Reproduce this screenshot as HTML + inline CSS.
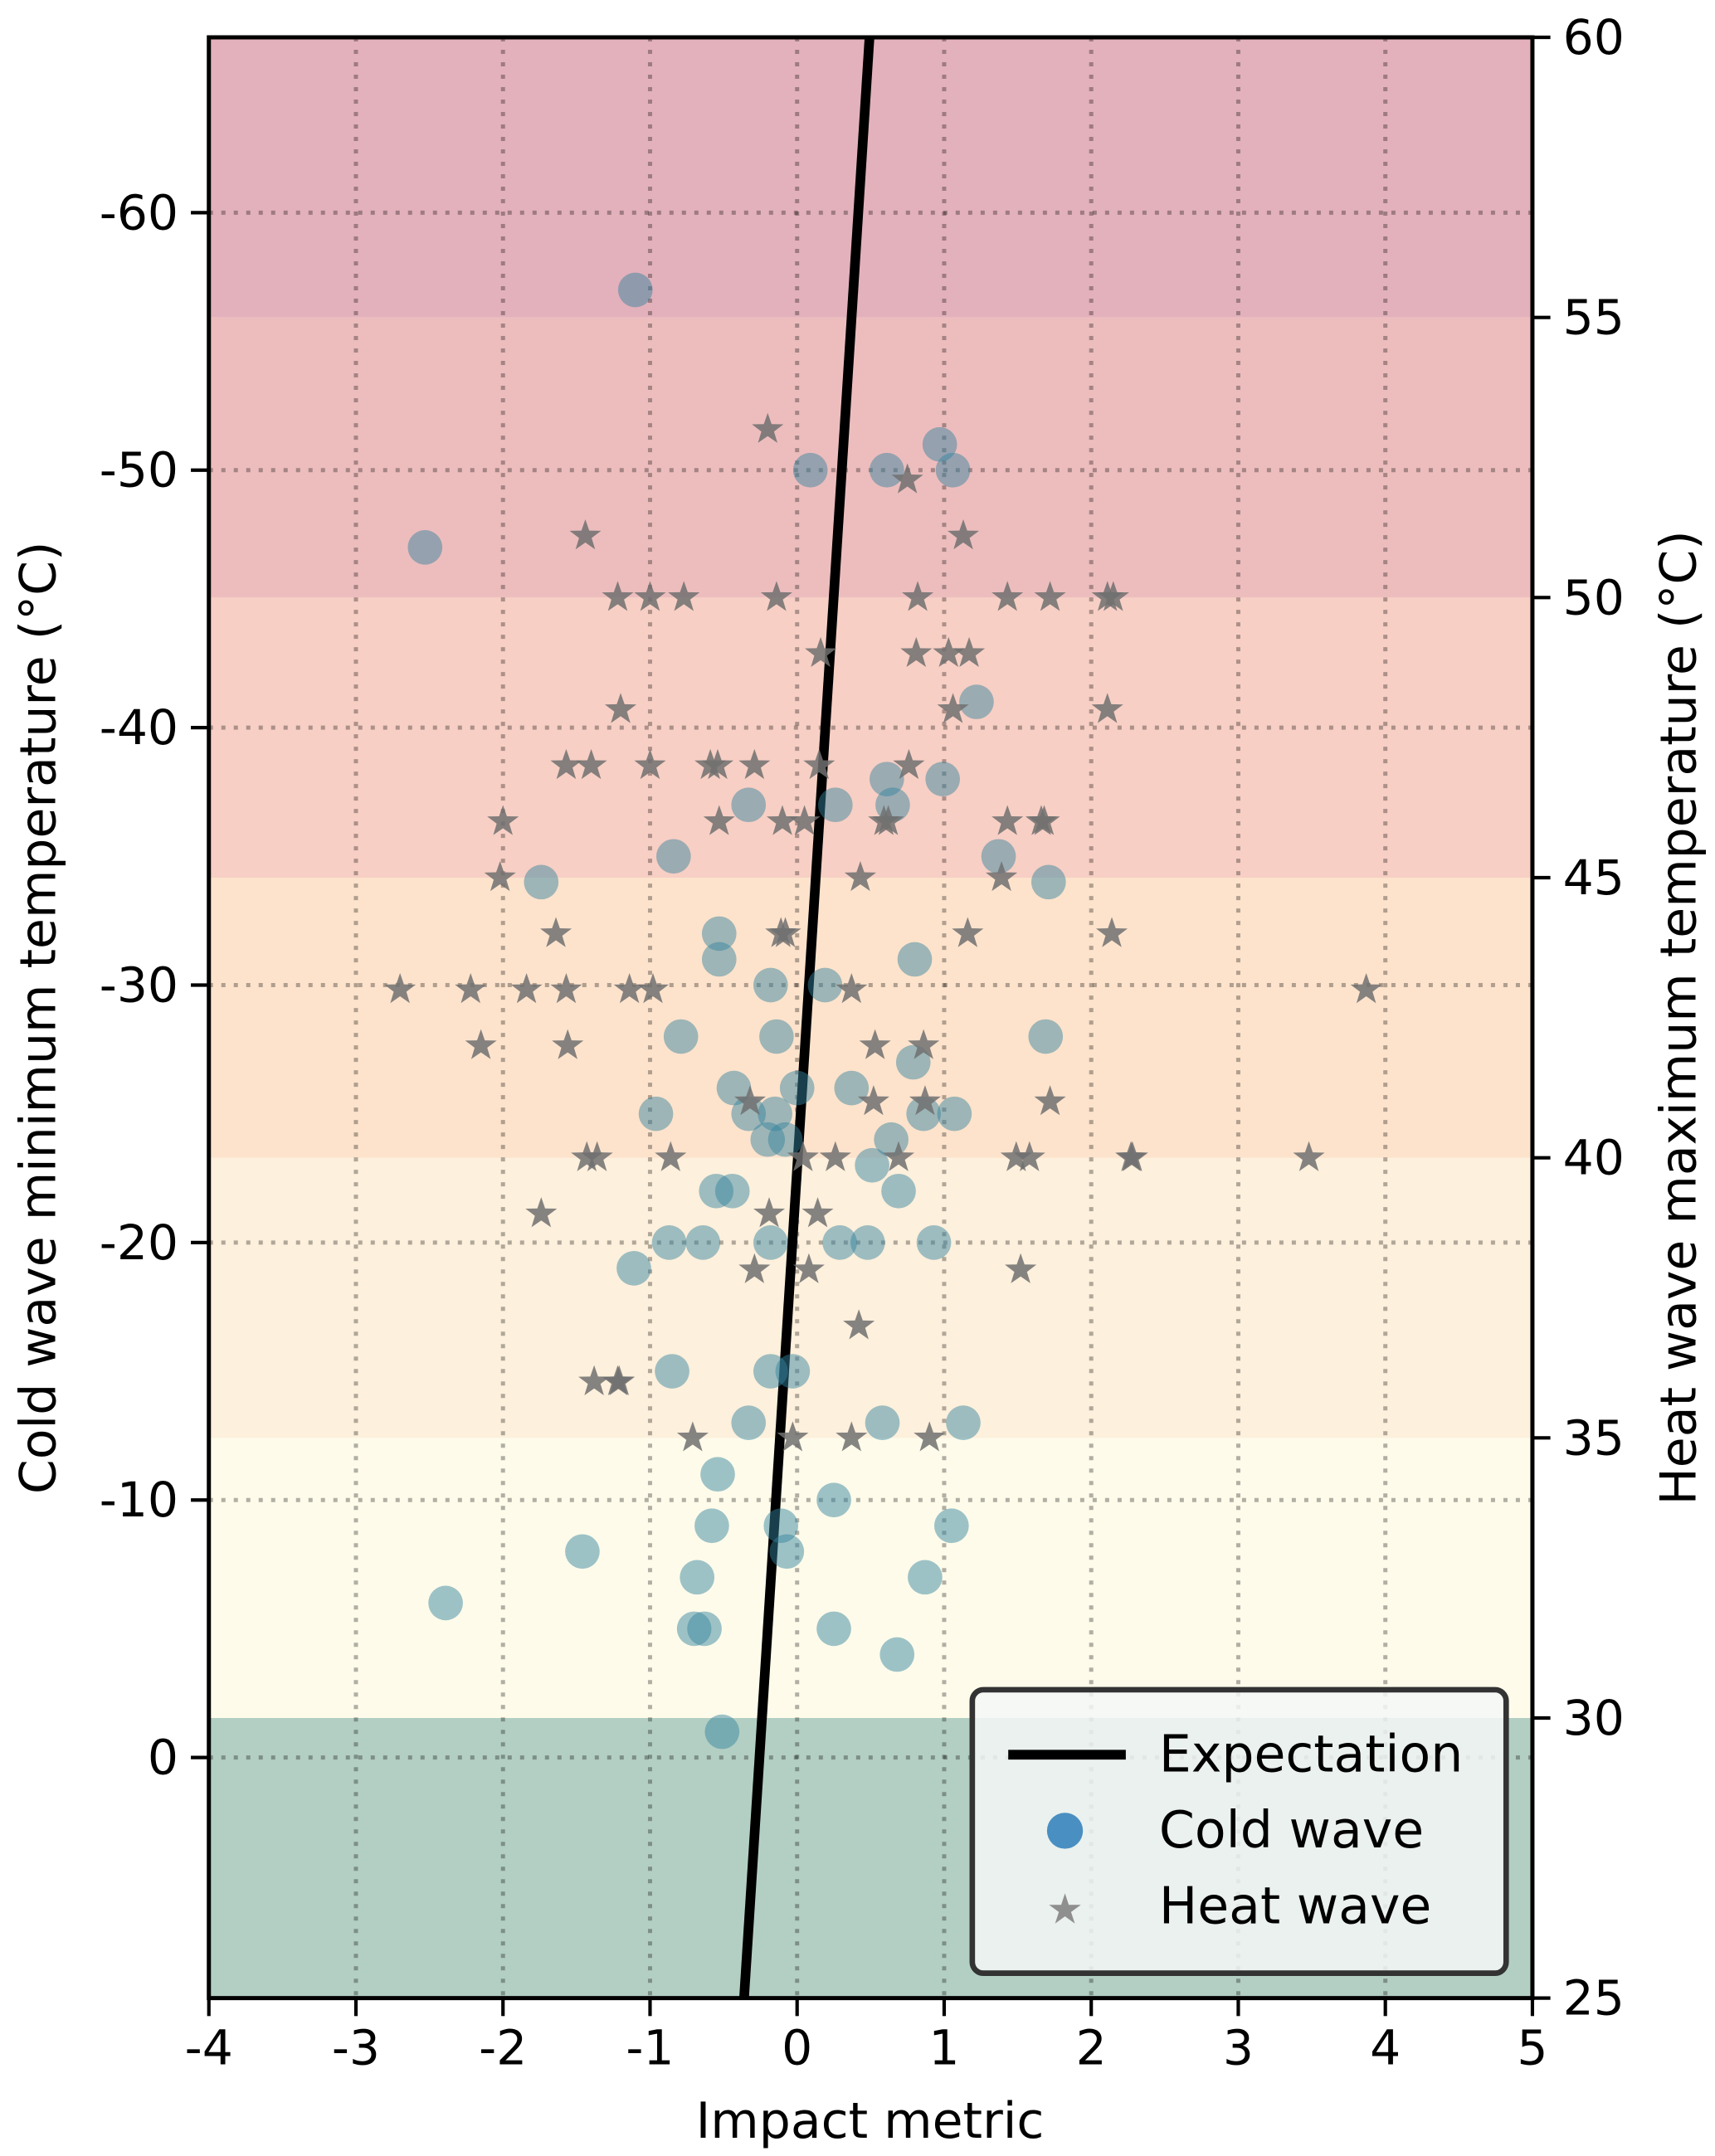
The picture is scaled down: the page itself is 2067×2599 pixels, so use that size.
<!DOCTYPE html>
<html><head><meta charset="utf-8"><style>
html,body{margin:0;padding:0;background:#fff}
svg{display:block}
text{font-family:"DejaVu Sans","Liberation Sans",sans-serif;fill:#000}
</style></head><body>
<svg id="chart" width="2067" height="2599" viewBox="0 0 1240 1559.2" xmlns="http://www.w3.org/2000/svg">
<g id="bands"></g>
<g id="grid"></g>
<g id="line"></g>
<g id="cold"></g>
<g id="heat"></g>
<g id="axes"></g>
<g id="legend">
  <rect x="703" y="1222" width="386" height="205" rx="8" fill="#f3f7f6" fill-opacity="0.85" stroke="#333" stroke-width="4"/>
  <line x1="729" y1="1269" x2="814" y2="1269" stroke="#000" stroke-width="7"/>
  <text x="838" y="1281" font-size="37">Expectation</text>
  <circle cx="770" cy="1324" r="13" fill="#4a8fc2"/>
  <text x="838" y="1336" font-size="37">Cold wave</text>
  <text x="770" y="1391" font-size="30" text-anchor="middle" style="fill:#8f8f8f">★</text>
  <text x="838" y="1391" font-size="37">Heat wave</text>
</g>
</svg>
<script>
const xTicks = [-4,-3,-2,-1,0,1,2,3,4,5];
const leftTicks = [-60,-50,-40,-30,-20,-10,0];
const rightTicks = [25,30,35,40,45,50,55,60];
const bandEdges = [25,30,35,40,45,50,55,60];
const bandColors = ["#b3cfc3","#fefbea","#fdf0dc","#fde3cc","#f7cfc4","#edbdbd","#e3b1bb"];
const expectIntercept = -0.256;
const expectSlope = -0.0112;
const coldX = [-1.10,-2.53,0.09,0.61,0.97,1.06,1.22,-0.33,0.26,0.61,0.65,0.99,1.37,-0.84,-1.74,1.71,-0.53,-0.53,-0.18,0.19,0.80,-0.79,-0.14,1.69,-0.43,0.0,0.37,0.79,-0.96,-0.33,-0.15,0.86,1.07,-0.20,-0.08,0.64,0.51,-0.55,-0.44,0.69,-0.87,-0.64,-0.18,0.29,0.48,0.93,-1.11,-0.85,-0.18,-0.03,-0.33,0.58,1.13,-0.54,0.25,-0.58,-0.11,1.05,-0.07,-1.46,-0.68,0.87,-2.39,-0.70,-0.63,0.25,0.68,-0.51];
const coldY = [-57,-47,-50,-50,-51,-50,-41,-37,-37,-38,-37,-38,-35,-35,-34,-34,-32,-31,-30,-30,-31,-28,-28,-28,-26,-26,-26,-27,-25,-25,-25,-25,-25,-24,-24,-24,-23,-22,-22,-22,-20,-20,-20,-20,-20,-20,-19,-15,-15,-15,-13,-13,-13,-11,-10,-9,-9,-9,-8,-8,-7,-7,-6,-5,-5,-5,-4,-1];
const heatX = [-0.20,0.75,-1.44,1.13,-1.22,-1.0,-0.77,-0.14,0.82,1.43,1.72,2.11,2.15,0.16,0.81,1.03,1.17,-1.20,1.06,2.11,-1.57,-1.40,-1.0,-0.59,-0.54,-0.29,0.15,0.76,-2.0,-0.53,-0.10,0.05,0.59,0.62,1.43,1.66,1.68,-2.02,0.43,1.39,-1.64,-0.11,-0.08,1.16,2.14,-2.70,-2.22,-1.84,-1.57,-1.14,-0.98,0.37,3.87,-2.15,-1.56,0.53,0.86,-0.32,0.52,0.87,1.72,-1.43,-1.36,-0.86,0.04,0.26,0.69,1.49,1.58,2.27,2.28,3.48,-1.74,-0.19,0.14,-0.29,0.08,1.52,0.42,-1.38,-1.22,-1.21,-0.71,-0.03,0.37,0.90];
const heatY = [53,52.1,51.1,51.1,50,50,50,50,50,50,50,50,50,49,49,49,49,48,48,48,47,47,47,47,47,47,47,47,46,46,46,46,46,46,46,46,46,45,45,45,44,44,44,44,44,43,43,43,43,43,43,43,43,42,42,42,42,41,41,41,41,40,40,40,40,40,40,40,40,40,40,40,39,39,39,38,38,38,37,36,36,36,35,35,35,35];

const NS="http://www.w3.org/2000/svg";
const L=151,R=1108,T=27,B=1445;
const sx=v=>L+(v+4)*(R-L)/9;
const sy=v=>1271+v*18.62;
const sr=v=>B-(v-25)*(B-T)/35;
function mk(tag,parent,attrs){const e=document.createElementNS(NS,tag);for(const k in attrs)e.setAttribute(k,attrs[k]);parent.appendChild(e);return e;}

const bands=document.getElementById('bands');
for(let i=0;i<bandColors.length;i++){
  const r=mk('rect',bands,{x:L,y:sr(bandEdges[i+1]),width:R-L,height:sr(bandEdges[i])-sr(bandEdges[i+1]),fill:bandColors[i]});
  
  
}
const grid=document.getElementById('grid');
xTicks.slice(1,-1).forEach(v=>{
  const g=mk('line',grid,{x1:sx(v),x2:sx(v),y1:T,y2:B,stroke:'#000','stroke-opacity':0.3,'stroke-width':3,'stroke-dasharray':'3 6'});
  
  
});
leftTicks.forEach(v=>{
  const g=mk('line',grid,{x1:L,x2:R,y1:sy(v),y2:sy(v),stroke:'#000','stroke-opacity':0.3,'stroke-width':3,'stroke-dasharray':'3 6'});
  
  
});
const yTop=(T-1271)/18.62, yBot=(B-1271)/18.62;
const ln=mk('line',document.getElementById('line'),{x1:sx(expectIntercept+expectSlope*yBot),y1:B,x2:sx(expectIntercept+expectSlope*yTop),y2:T,stroke:'#000','stroke-width':7});



const cold=document.getElementById('cold');
coldX.forEach((x,i)=>{
  const c=mk('circle',cold,{cx:sx(x),cy:sy(coldY[i]),r:12.5,fill:'#34849f','fill-opacity':0.48});
  
  
});
const heat=document.getElementById('heat');
function starPath(cx,cy,ro){const ri=ro*0.4;let d='';for(let k=0;k<10;k++){const r=k%2?ri:ro;const a=-Math.PI/2+k*Math.PI/5;d+=(k?'L':'M')+(cx+r*Math.cos(a)).toFixed(2)+' '+(cy+r*Math.sin(a)).toFixed(2);}return d+'Z';}
heatX.forEach((x,i)=>{
  const s=mk('path',heat,{d:starPath(sx(x),sr(heatY[i]),12),fill:'#707070','fill-opacity':0.85});
  
  
});

const axes=document.getElementById('axes');
mk('rect',axes,{x:L,y:T,width:R-L,height:B-T,fill:'none',stroke:'#000','stroke-width':3});
xTicks.forEach(v=>{
  mk('line',axes,{x1:sx(v),x2:sx(v),y1:B,y2:B+13,stroke:'#000','stroke-width':2.5});
  const t=mk('text',axes,{x:sx(v),y:B+48,'font-size':35,'text-anchor':'middle'});t.textContent=v;
  
  
});
leftTicks.forEach(v=>{
  mk('line',axes,{x1:L-13,x2:L,y1:sy(v),y2:sy(v),stroke:'#000','stroke-width':2.5});
  const t=mk('text',axes,{x:L-22,y:sy(v)+12,'font-size':35,'text-anchor':'end'});t.textContent=v;
  
  
});
rightTicks.forEach(v=>{
  mk('line',axes,{x1:R,x2:R+13,y1:sr(v),y2:sr(v),stroke:'#000','stroke-width':2.5});
  const t=mk('text',axes,{x:R+22,y:sr(v)+12,'font-size':35});t.textContent=v;
  
  
});
const xl=mk('text',axes,{x:629,y:1546,'font-size':36,'text-anchor':'middle'});xl.textContent='Impact metric';


const yl=mk('text',axes,{x:0,y:0,'font-size':36,'text-anchor':'middle',transform:'translate(40,736) rotate(-90)'});yl.textContent='Cold wave minimum temperature (°C)';


const yr=mk('text',axes,{x:0,y:0,'font-size':36,'text-anchor':'middle',transform:'translate(1226,736) rotate(-90)'});yr.textContent='Heat wave maximum temperature (°C)';


</script>
</body></html>
